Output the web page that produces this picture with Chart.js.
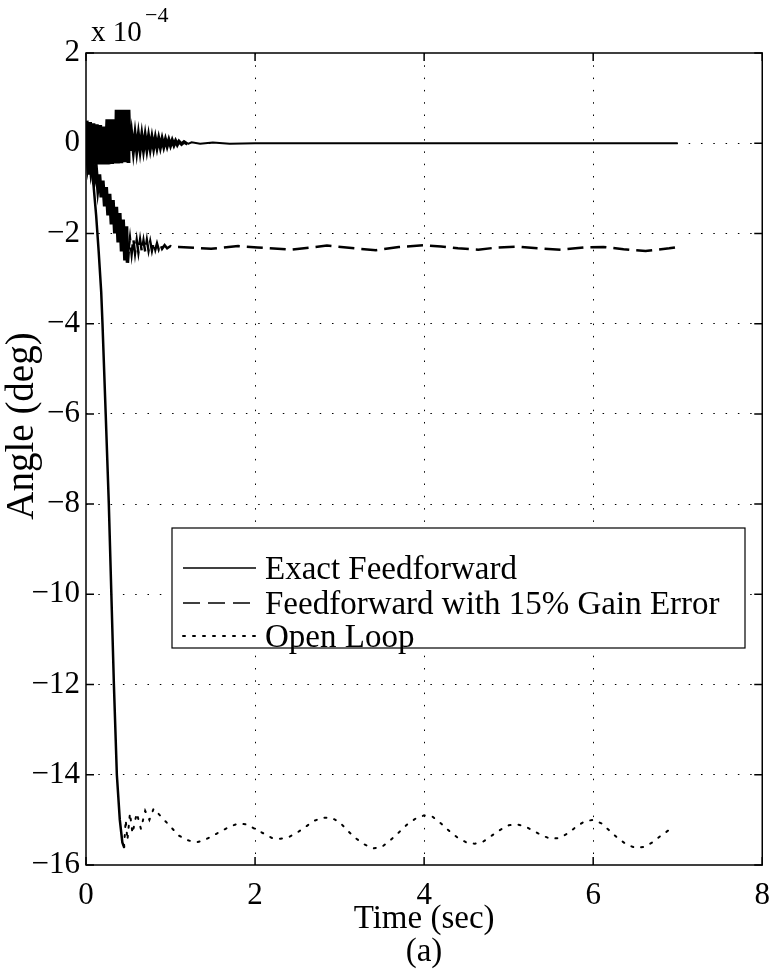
<!DOCTYPE html>
<html>
<head>
<meta charset="utf-8">
<script src="https://cdn.jsdelivr.net/npm/chart.js@4.4.1/dist/chart.umd.min.js"></script>
<style>
  html, body { margin: 0; padding: 0; background: #fff; }
  #wrap { width: 782px; height: 974px; }
</style>
</head>
<body>
<div id="wrap"><canvas id="angle-chart" width="782" height="974"></canvas></div>
<script>
// angle response, values in units of 1e-4 deg
const seriesNames = ['Exact Feedforward', 'Feedforward with 15% Gain Error', 'Open Loop'];
const xTicks = [0, 2, 4, 6, 8];
const yTicks = [2, 0, -2, -4, -6, -8, -10, -12, -14, -16];

const exactT = [0, 0.01, 0.03, 0.05, 0.07, 0.09, 0.11, 0.13, 0.15, 0.17, 0.19, 0.21, 0.23, 0.25, 0.27, 0.29, 0.31, 0.33, 0.35, 0.36, 0.38, 0.40, 0.42, 0.44, 0.46, 0.48, 0.50, 0.505,
  0.52, 0.54, 0.56, 0.58, 0.60, 0.62, 0.64, 0.66, 0.68, 0.70, 0.72, 0.74, 0.76, 0.78, 0.80, 0.82, 0.84, 0.86, 0.88, 0.90, 0.92, 0.94, 0.96, 0.98, 1.00,
  1.02, 1.04, 1.06, 1.08, 1.10, 1.13, 1.16, 1.20, 1.25, 1.35, 1.50, 1.70, 2.00, 7.00];
const exactY = [0, 0.50, -0.70, 0.47, -0.55, 0.44, -0.47, 0.42, -0.47, 0.40, -0.47, 0.37, -0.47, 0.53, -0.47, 0.53, -0.46, 0.53, -0.45, 0.74, -0.45, 0.74, -0.44, 0.74, -0.42, 0.74, -0.40, 0.74,
  -0.17, 0.19, -0.16, 0.18, -0.15, 0.17, -0.14, 0.16, -0.13, 0.15, -0.12, 0.14, -0.11, 0.12, -0.10, 0.11, -0.09, 0.10, -0.08, 0.09, -0.07, 0.08, -0.06, 0.07, -0.05,
  0.06, -0.04, 0.05, -0.03, 0.04, -0.02, 0.03, -0.02, 0.02, -0.01, 0.015, -0.01, 0, 0];

const gainT = [0, 0.02, 0.04, 0.06, 0.08, 0.10, 0.12, 0.14, 0.16, 0.18, 0.20, 0.22, 0.24, 0.26, 0.28, 0.30, 0.32, 0.34, 0.36, 0.38, 0.40, 0.42, 0.44, 0.46, 0.48, 0.49, 0.50,
  0.52, 0.54, 0.56, 0.58, 0.60, 0.62, 0.64, 0.66, 0.68, 0.70, 0.72, 0.74, 0.76, 0.78, 0.80, 0.82, 0.84, 0.86, 0.88, 0.90, 0.93, 0.96, 1.00, 1.04, 1.10,
  1.48, 1.80, 2.03, 2.42, 2.85, 3.24, 3.43, 3.70, 4.00, 4.20, 4.40, 4.64, 4.87, 5.10, 5.34, 5.62, 5.89, 6.12, 6.36, 6.62, 6.90, 7.00];
const gainY = [0, -0.45, -0.15, -0.62, -0.40, -0.80, -0.54, -1.00, -0.69, -1.20, -0.83, -1.40, -0.97, -1.60, -1.12, -1.80, -1.26, -2.00, -1.41, -2.20, -1.55, -2.40, -1.69, -2.60, -1.84, -2.65, -2.40,
  -2.10, -2.45, -2.12, -2.44, -2.15, -2.42, -2.14, -2.40, -2.16, -2.40, -2.15, -2.38, -2.18, -2.38, -2.20, -2.36, -2.22, -2.35, -2.24, -2.34, -2.26, -2.33, -2.28, -2.31, -2.30,
  -2.34, -2.28, -2.31, -2.36, -2.27, -2.34, -2.37, -2.30, -2.26, -2.29, -2.33, -2.36, -2.31, -2.29, -2.33, -2.36, -2.31, -2.30, -2.35, -2.39, -2.33, -2.30];

const openT = [0, 0.03, 0.06, 0.09, 0.12, 0.15, 0.18, 0.195, 0.233, 0.27, 0.30, 0.33, 0.365, 0.40, 0.43, 0.45,
  0.47, 0.49, 0.52, 0.55, 0.60, 0.65, 0.70, 0.75, 0.80, 0.85, 0.90, 1.0, 1.1, 1.2, 1.3, 1.4, 1.5, 1.6, 1.7, 1.8, 1.9,
  2.0, 2.1, 2.2, 2.3, 2.4, 2.5, 2.6, 2.7, 2.8, 2.9, 3.0, 3.1, 3.2, 3.3, 3.4, 3.5, 3.6, 3.7, 3.8, 3.9,
  4.0, 4.1, 4.2, 4.3, 4.4, 4.5, 4.6, 4.7, 4.8, 4.9, 5.0, 5.1, 5.2, 5.3, 5.4, 5.5, 5.6, 5.7, 5.8, 5.9,
  6.0, 6.1, 6.2, 6.3, 6.4, 6.5, 6.6, 6.7, 6.8, 6.9, 6.95];
const openY = [0, -0.2, -0.5, -0.95, -1.6, -2.4, -3.3, -4.0, -6.0, -8.0, -10.0, -12.0, -14.0, -15.0, -15.5, -15.6,
  -15.0, -15.45, -14.85, -15.3, -14.85, -15.2, -14.8, -15.0, -14.75, -14.85, -14.95, -15.15, -15.35, -15.45, -15.5, -15.45, -15.35, -15.25, -15.15, -15.08, -15.1,
  -15.2, -15.3, -15.4, -15.42, -15.38, -15.28, -15.15, -15.02, -14.95, -14.95, -15.05, -15.25, -15.42, -15.55, -15.63, -15.6, -15.45, -15.28, -15.1, -14.97,
  -14.9, -14.93, -15.08, -15.25, -15.4, -15.5, -15.53, -15.48, -15.35, -15.22, -15.12, -15.1, -15.15, -15.25, -15.35, -15.42, -15.4, -15.3, -15.15, -15.03,
  -15.0, -15.08, -15.25, -15.42, -15.55, -15.62, -15.6, -15.5, -15.35, -15.22, -15.2];

const serif = "'Liberation Serif', 'DejaVu Serif', serif";
const dashGain = [16, 7];
const dashOpen = [2, 8];

function toPoints(ts, ys) {
  return ts.map((t, i) => ({ x: t, y: ys[i] }));
}
function minus(v) {
  return String(v).replace('-', '\u2212');
}

// box, inward tick marks, axis titles and the legend, the way matlab prints them
const decorations = {
  id: 'decorations',
  afterDatasetsDraw(chart) {
    const { ctx, chartArea: a, scales } = chart;
    ctx.save();
    ctx.strokeStyle = '#000';
    ctx.fillStyle = '#000';
    ctx.lineWidth = 1.5;
    ctx.setLineDash([]);
    ctx.strokeRect(a.left, a.top, a.right - a.left, a.bottom - a.top);

    const tl = 8;
    ctx.beginPath();
    xTicks.forEach(v => {
      const px = scales.x.getPixelForValue(v);
      ctx.moveTo(px, a.bottom); ctx.lineTo(px, a.bottom - tl);
      ctx.moveTo(px, a.top); ctx.lineTo(px, a.top + tl);
    });
    yTicks.forEach(v => {
      const py = scales.y.getPixelForValue(v);
      ctx.moveTo(a.left, py); ctx.lineTo(a.left + tl, py);
      ctx.moveTo(a.right, py); ctx.lineTo(a.right - tl, py);
    });
    ctx.stroke();

    // exponent over the y axis
    ctx.textAlign = 'left';
    ctx.textBaseline = 'alphabetic';
    ctx.font = '29px ' + serif;
    ctx.fillText('x 10', 91, 41);
    ctx.font = '22px ' + serif;
    ctx.fillText('\u22124', 145, 22);

    // axis titles
    ctx.font = '33px ' + serif;
    ctx.textAlign = 'center';
    ctx.fillText('Time (sec)', (a.left + a.right) / 2, 928);
    ctx.fillText('(a)', 424, 961);
    ctx.save();
    ctx.translate(33, 426);
    ctx.rotate(-Math.PI / 2);
    ctx.font = '39px ' + serif;
    ctx.fillText('Angle (deg)', 0, 0);
    ctx.restore();

    // legend box
    const box = { x: 172, y: 528, w: 573, h: 120 };
    ctx.fillStyle = '#fff';
    ctx.fillRect(box.x, box.y, box.w, box.h);
    ctx.lineWidth = 1.2;
    ctx.strokeRect(box.x, box.y, box.w, box.h);
    ctx.fillStyle = '#000';
    ctx.textAlign = 'left';
    ctx.font = '33px ' + serif;
    const rows = [579, 614, 647];
    const dashes = [[], [17, 8], [2, 8]];
    chart.data.datasets.forEach((ds, i) => {
      const y = rows[i] - 11;
      ctx.beginPath();
      ctx.setLineDash(dashes[i]);
      ctx.lineWidth = i === 2 ? 2 : 1.5;
      ctx.lineCap = i === 2 ? 'round' : 'butt';
      ctx.moveTo(183, y);
      ctx.lineTo(256, y);
      ctx.stroke();
      ctx.setLineDash([]);
      ctx.fillText(ds.label, 265, rows[i]);
    });
    ctx.restore();
  }
};

const hideEdge = (lo, hi) => c => (c.tick && (c.tick.value === lo || c.tick.value === hi)) ? 'rgba(0,0,0,0)' : '#000';

new Chart(document.getElementById('angle-chart'), {
  type: 'line',
  data: {
    datasets: [
      {
        label: seriesNames[0],
        data: toPoints(exactT, exactY),
        borderColor: '#000',
        borderWidth: 2,
        pointRadius: 0,
        tension: 0,
        // the fast ringing prints as a solid black band
        segment: { borderWidth: c => c.p1.parsed.x <= 1.2 ? 3.5 : 2 }
      },
      {
        label: seriesNames[1],
        data: toPoints(gainT, gainY),
        borderColor: '#000',
        borderWidth: 2,
        pointRadius: 0,
        tension: 0,
        segment: {
          borderDash: c => c.p1.parsed.x <= 0.5 ? [] : dashGain,
          borderWidth: c => c.p1.parsed.x <= 0.5 ? 3.5 : 2.5
        }
      },
      {
        label: seriesNames[2],
        data: toPoints(openT, openY),
        borderColor: '#000',
        borderWidth: 2,
        borderCapStyle: 'round',
        pointRadius: 0,
        tension: 0,
        segment: {
          borderDash: c => c.p1.parsed.x <= 0.45 ? [] : dashOpen,
          borderWidth: c => c.p1.parsed.x <= 0.45 ? 2.5 : 2
        }
      }
    ]
  },
  plugins: [decorations],
  options: {
    responsive: false,
    animation: false,
    events: [],
    layout: { padding: { left: 0, right: 12, top: 53, bottom: 0 } },
    plugins: { legend: { display: false }, tooltip: { enabled: false } },
    scales: {
      x: {
        type: 'linear',
        min: 0,
        max: 8,
        afterBuildTicks: s => { s.ticks = xTicks.map(v => ({ value: v })); },
        afterFit: s => { s.height = 109; },
        ticks: { color: '#000', font: { family: serif, size: 31 }, padding: 12, maxRotation: 0, callback: v => minus(v) },
        grid: { color: hideEdge(0, 8), lineWidth: 1, drawTicks: false },
        border: { display: false, dash: [1.5, 10.8] }
      },
      y: {
        type: 'linear',
        min: -16,
        max: 2,
        afterBuildTicks: s => { s.ticks = yTicks.map(v => ({ value: v })); },
        afterFit: s => { s.width = 86; },
        ticks: { color: '#000', font: { family: serif, size: 31 }, padding: 6, callback: v => minus(v) },
        grid: { color: hideEdge(-16, 2), lineWidth: 1, drawTicks: false },
        border: { display: false, dash: [1.5, 10.8] }
      }
    }
  }
});
</script>
</body>
</html>
